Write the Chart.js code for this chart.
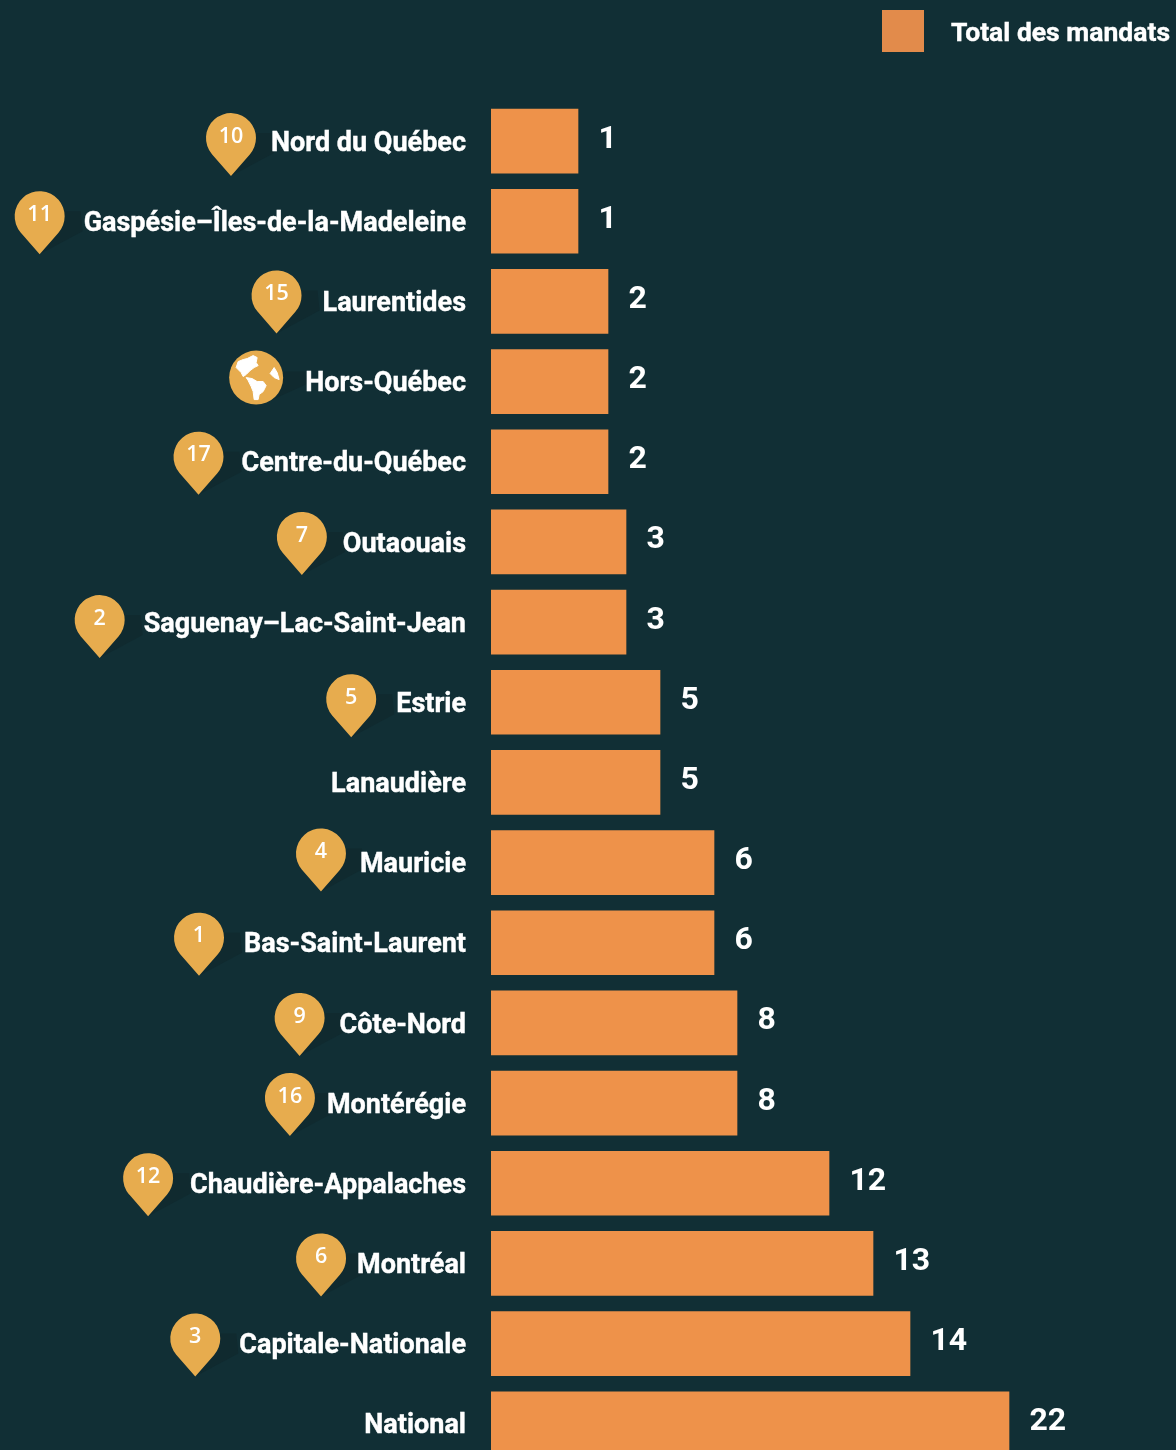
<!DOCTYPE html>
<html lang="fr">
<head>
<meta charset="utf-8">
<title>Total des mandats par région</title>
<style>
    html, body { margin: 0; padding: 0; height: 1450px; overflow: hidden; background: #112f35; }
    canvas { display: block; }
</style>
<script src="https://cdn.jsdelivr.net/npm/chart.js@4/dist/chart.umd.min.js"></script>
</head>
<body>
<canvas id="mandatsChart" width="1176" height="1505"></canvas>
<script>
const regions = [
    'Nord du Québec', 'Gaspésie–Îles-de-la-Madeleine', 'Laurentides', 'Hors-Québec',
    'Centre-du-Québec', 'Outaouais', 'Saguenay–Lac-Saint-Jean', 'Estrie', 'Lanaudière',
    'Mauricie', 'Bas-Saint-Laurent', 'Côte-Nord', 'Montérégie', 'Chaudière-Appalaches',
    'Montréal', 'Capitale-Nationale', 'National',
];
// printed next to each bar
const mandats = [1, 1, 2, 2, 2, 3, 3, 5, 5, 6, 6, 8, 8, 12, 13, 14, 22];
// the bars in the picture are not proportional to the printed totals, so their lengths are read separately
const barLengths = [87, 87, 117, 117, 117, 135, 135, 169, 169, 223, 223, 246, 246, 338, 382, 419, 518];
// region number on each pin, 'globe' for the world icon, null for no pin
const pinLabels = ['10', '11', '15', 'globe', '17', '7', '2', '5', null, '4', '1', '9', '16', '12', '6', '3', null];

// pin placement relative to the label: gap to the label's left edge, lift above the bar's middle
const pinGaps = [40, 44, 46, 49, 43, 41, 44, 45, 0, 39, 45, 40, 37, 42, 36, 44, 0];
const pinLifts = [3, 5, 6, 4, 5, 5, 2, 3, 0, 9, 5, 5, 5, 5, 5, 5, 0];

const BAR = '#ee924a';
const SWATCH = '#e28b4b';
const PIN = '#e7ac4e';
const SHADOW = '#102a2f';

// globe continents, in px from the circle's centre
const continents = [
    [[-20, -10], [-18, -16], [-13, -18], [-9, -19], [-3, -22], [1, -20], [0, -15], [2, -12], [-2, -10], [-6, -7], [-10, -3], [-13, -1], [-15, -5]],
    [[-10, 0], [-4, 1], [1, 4], [7, 4], [10, 8], [7, 14], [3, 17], [2, 22], [-2, 22], [-3, 14], [-5, 9], [-8, 3]],
    [[18, -10], [21, -5], [23, 2], [18, 0], [14, -4]],
];

const drawPin = (ctx, cx, cy, text) => {
    const r = 25;
    const tipY = cy + 38;
    const a = Math.atan2(16.4, 18.8);

    ctx.fillStyle = SHADOW;
    ctx.beginPath();
    ctx.moveTo(cx, tipY);
    ctx.lineTo(cx + 43, tipY - 23);
    ctx.lineTo(cx + 41, cy - 5);
    ctx.lineTo(cx, cy - 5);
    ctx.closePath();
    ctx.fill();

    ctx.fillStyle = PIN;
    ctx.beginPath();
    ctx.moveTo(cx, tipY);
    ctx.lineTo(cx - 18.8, cy + 16.4);
    ctx.arc(cx, cy, r, Math.PI - a, a);
    ctx.closePath();
    ctx.fill();

    ctx.fillStyle = '#ffffff';
    ctx.font = '600 21.5px "Open Sans"';
    ctx.textAlign = 'center';
    ctx.textBaseline = 'middle';
    ctx.fillText(text, cx, cy - 1.5);
};

const drawGlobe = (ctx, cx, cy) => {
    ctx.fillStyle = SHADOW;
    ctx.beginPath();
    ctx.moveTo(cx + 10, cy + 25);
    ctx.lineTo(cx + 52, cy + 6);
    ctx.lineTo(cx + 49, cy - 6);
    ctx.lineTo(cx, cy - 6);
    ctx.closePath();
    ctx.fill();

    ctx.fillStyle = PIN;
    ctx.beginPath();
    ctx.arc(cx, cy, 27, 0, Math.PI * 2);
    ctx.fill();

    ctx.fillStyle = '#ffffff';
    ctx.strokeStyle = '#ffffff';
    ctx.lineWidth = 1;
    ctx.lineJoin = 'round';
    continents.forEach((shape) => {
        ctx.beginPath();
        shape.forEach(([x, y], i) => (i ? ctx.lineTo(cx + x, cy + y) : ctx.moveTo(cx + x, cy + y)));
        ctx.closePath();
        ctx.fill();
        ctx.stroke();
    });
};

const pinPlugin = {
    id: 'pins',
    beforeDraw: (chart) => {
        const { ctx, scales: { y } } = chart;
        const labelRight = y.right - y.options.ticks.padding;
        ctx.save();
        ctx.font = 'bold 27px Roboto';
        const lefts = regions.map((r) => labelRight - ctx.measureText(r).width);
        pinLabels.forEach((pin, i) => {
            if (!pin) return;
            const cx = lefts[i] - pinGaps[i];
            const cy = y.getPixelForTick(i) - pinLifts[i];
            if (pin === 'globe') drawGlobe(ctx, cx, cy);
            else drawPin(ctx, cx, cy, pin);
        });
        ctx.restore();
    },
};

const valuePlugin = {
    id: 'barValues',
    afterDatasetsDraw: (chart) => {
        const { ctx } = chart;
        ctx.save();
        ctx.fillStyle = '#ffffff';
        ctx.font = 'bold 32px Roboto';
        ctx.textAlign = 'left';
        ctx.textBaseline = 'middle';
        chart.getDatasetMeta(0).data.forEach((bar, i) => {
            ctx.fillText(String(mandats[i]), bar.x + 20.5, bar.y - 1.5);
        });
        ctx.restore();
    },
};

const legendPlugin = {
    id: 'topLegend',
    afterDraw: (chart) => {
        const { ctx } = chart;
        ctx.save();
        ctx.fillStyle = SWATCH;
        ctx.fillRect(882, 10, 42, 42);
        ctx.fillStyle = '#ffffff';
        ctx.strokeStyle = '#ffffff';
        ctx.lineWidth = 0.4;
        ctx.font = 'bold 26.5px Roboto';
        ctx.textAlign = 'left';
        ctx.textBaseline = 'middle';
        ctx.fillText(chart.data.datasets[0].label, 951, 34);
        ctx.strokeText(chart.data.datasets[0].label, 951, 34);
        ctx.restore();
    },
};

new Chart(document.getElementById('mandatsChart').getContext('2d'), {
    type: 'bar',
    data: {
        labels: regions,
        datasets: [{
            label: 'Total des mandats',
            data: barLengths,
            backgroundColor: BAR,
            barThickness: 64,
        }],
    },
    plugins: [pinPlugin, valuePlugin, legendPlugin],
    options: {
        indexAxis: 'y',
        responsive: false,
        animation: false,
        layout: { autoPadding: false, padding: { top: 101, bottom: 7 } },
        plugins: { legend: { display: false }, tooltip: { enabled: false } },
        scales: {
            x: { display: false, min: 0, max: 685 },
            y: {
                afterFit: (axis) => { axis.width = 491; },
                border: { display: false },
                grid: { display: false, drawTicks: false },
                ticks: {
                    autoSkip: false,
                    color: '#ffffff',
                    font: { family: 'Roboto', size: 27, weight: 'bold' },
                    textStrokeColor: '#ffffff',
                    textStrokeWidth: 0.4,
                    padding: 25,
                    labelOffset: 3,
                },
            },
        },
    },
});
</script>
</body>
</html>
